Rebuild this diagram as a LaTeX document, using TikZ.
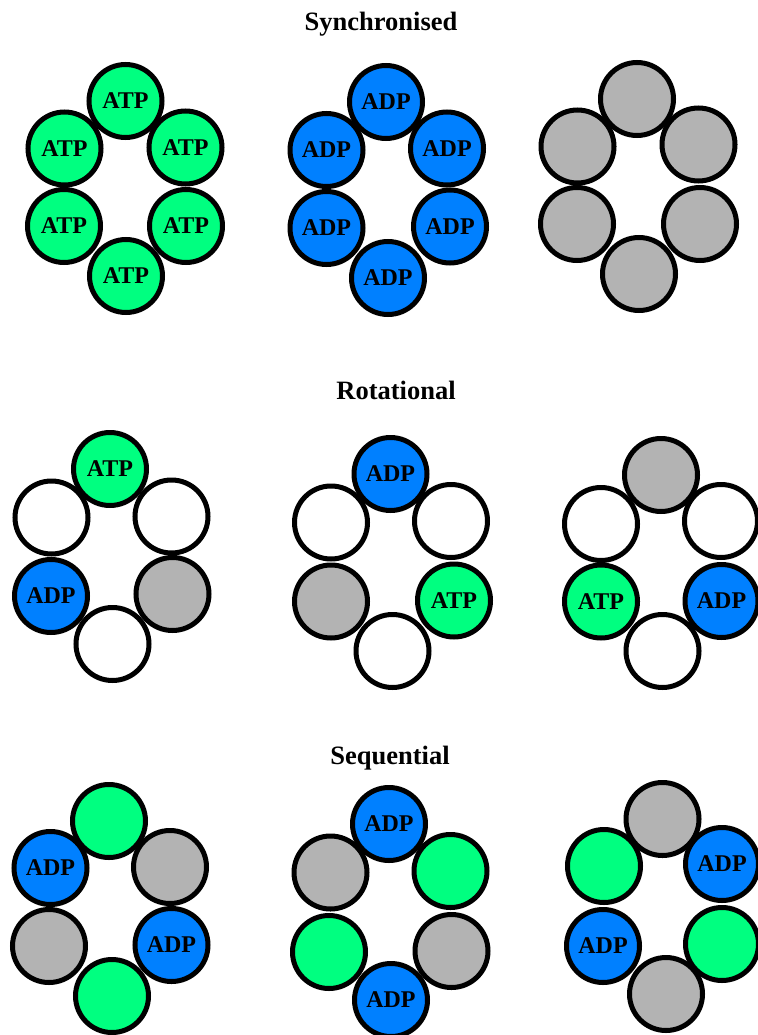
\documentclass[tikz,border=0pt]{standalone}
\usepackage{fontspec}
\setmainfont{Liberation Serif}
\definecolor{atpgreen}{RGB}{0,255,128}
\definecolor{adpblue}{RGB}{0,128,255}
\definecolor{emptygray}{RGB}{179,179,179}
\begin{document}
\begin{tikzpicture}[x=1pt,y=-1pt,
  site/.style={circle,draw=black,line width=5pt,minimum size=73pt,inner sep=0pt,
    font=\fontsize{24}{24}\selectfont\bfseries},
  atp/.style={site,fill=atpgreen},
  adp/.style={site,fill=adpblue},
  gry/.style={site,fill=emptygray},
  wht/.style={site,fill=white},
  title/.style={anchor=base,font=\fontsize{26.5}{26.5}\selectfont\bfseries}]
\useasboundingbox (0,0) rectangle (757,1035);
\fill[white] (0,0) rectangle (757,1035);
% titles
\node[title] (t1) at (381,30.7) {Synchronised};
\node[title] (t2) at (396,399.3) {Rotational};
\node[title] (t3) at (390,764.3) {Sequential};
% Row 1 left
\node[atp] (a1) at (125.5,101) {ATP};
\node[atp] (a2) at (64.5,148.5) {ATP};
\node[atp] (a3) at (185.5,147.5) {ATP};
\node[atp] (a4) at (64,226) {ATP};
\node[atp] (a5) at (186,226) {ATP};
\node[atp] (a6) at (126,276) {ATP};
% Row 1 middle
\node[adp] (b1) at (386,102) {ADP};
\node[adp] (b2) at (326.5,150) {ADP};
\node[adp] (b3) at (447,148.5) {ADP};
\node[adp] (b4) at (326.5,228) {ADP};
\node[adp] (b5) at (450,226.5) {ADP};
\node[adp] (b6) at (388,278) {ADP};
% Row 1 right
\node[gry] (c1) at (637,99) {};
\node[gry] (c2) at (577.5,146.5) {};
\node[gry] (c3) at (698.5,144.5) {};
\node[gry] (c4) at (577,224) {};
\node[gry] (c5) at (700,224) {};
\node[gry] (c6) at (639,274) {};
% Row 2 left
\node[atp] (d1) at (110,469) {ATP};
\node[wht] (d2) at (51.5,517.5) {};
\node[wht] (d3) at (171.5,516.5) {};
\node[adp] (d4) at (51,596) {ADP};
\node[gry] (d5) at (172.5,594) {};
\node[wht] (d6) at (112.5,644) {};
% Row 2 middle
\node[adp] (e1) at (390.5,474) {ADP};
\node[wht] (e2) at (331,522.5) {};
\node[wht] (e3) at (451,521) {};
\node[gry] (e4) at (331,601.5) {};
\node[atp] (e5) at (454,600.5) {ATP};
\node[wht] (e6) at (392.5,651) {};
% Row 2 right
\node[gry] (f1) at (661,475) {};
\node[wht] (f2) at (601,524) {};
\node[wht] (f3) at (721,521) {};
\node[atp] (f4) at (601,601.5) {ATP};
\node[adp] (f5) at (721.5,601) {ADP};
\node[wht] (f6) at (662.5,651) {};
% Row 3 left
\node[atp] (g1) at (109,821) {};
\node[adp] (g2) at (50.5,868) {ADP};
\node[gry] (g3) at (170,867) {};
\node[gry] (g4) at (49,946) {};
\node[adp] (g5) at (171.5,945) {ADP};
\node[atp] (g6) at (112,996) {};
% Row 3 middle
\node[adp] (h1) at (389,824) {ADP};
\node[gry] (h2) at (330.5,872.5) {};
\node[atp] (h3) at (450.5,871) {};
\node[atp] (h4) at (329,952) {};
\node[gry] (h5) at (451.5,951) {};
\node[adp] (h6) at (391,1000) {ADP};
% Row 3 right
\node[gry] (k1) at (662.5,819) {};
\node[atp] (k2) at (604,866) {};
\node[adp] (k3) at (722,864) {ADP};
\node[adp] (k4) at (603,946) {ADP};
\node[atp] (k5) at (722,944) {};
\node[gry] (k6) at (666,994) {};
\end{tikzpicture}
\end{document}
